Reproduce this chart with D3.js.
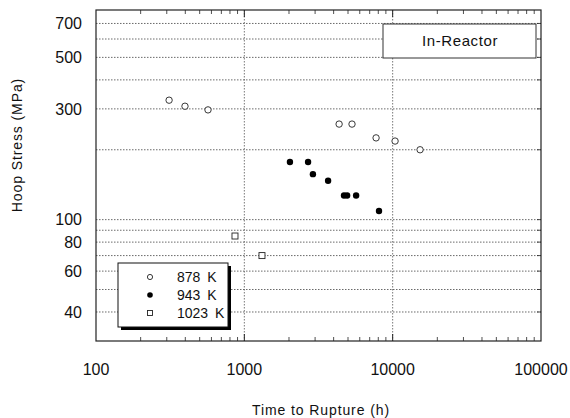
<!DOCTYPE html>
<html>
<head>
<meta charset="utf-8">
<script src="https://cdn.jsdelivr.net/npm/d3@7"></script>
<style>
  body { margin: 0; background: #fff; }
  text { font-family: "Liberation Sans", Arial, sans-serif; fill: #111; }
</style>
</head>
<body>
<div id="chart"></div>
<script>
// data
const series = ["878 K", "943 K", "1023 K"];
const t878 = [311, 398, 569, 4355, 5320, 7730, 10380, 15300];
const s878 = [327, 308, 297, 258, 258, 225, 218, 200];
const t943 = [2030, 2690, 2900, 3670, 4700, 4930, 5670, 8090];
const s943 = [177, 177, 157, 147, 127, 127, 127, 109];
const t1023 = [865, 1315];
const s1023 = [85, 70];
const xTicks = [100, 1000, 10000, 100000];
const yTicks = [40, 60, 80, 100, 300, 500, 700];
const yGrid = [40, 50, 60, 70, 80, 90, 100, 200, 300, 400, 500, 600, 700];

const W = 570, H = 418;
const margin = { top: 10, right: 29, bottom: 77, left: 96 };
const w = W - margin.left - margin.right;
const h = H - margin.top - margin.bottom;

const svg = d3.select("#chart").append("svg")
  .attr("width", W).attr("height", H);
const g = svg.append("g")
  .attr("transform", `translate(${margin.left},${margin.top})`);

const x = d3.scaleLog().domain([100, 100000]).range([0, w]);
const y = d3.scaleLog().domain([30, 800]).range([h, 0]);

// gridlines
g.selectAll(".hgrid").data(yGrid).enter().append("line")
  .attr("x1", 0).attr("x2", w)
  .attr("y1", d => y(d)).attr("y2", d => y(d))
  .attr("stroke", "#444").attr("stroke-width", 0.8)
  .attr("stroke-dasharray", "1.5,1.5");
g.selectAll(".vgrid").data([1000, 10000]).enter().append("line")
  .attr("x1", d => x(d)).attr("x2", d => x(d))
  .attr("y1", 0).attr("y2", h)
  .attr("stroke", "#555").attr("stroke-width", 0.8)
  .attr("stroke-dasharray", "1.5,1.5");

// minor ticks on bottom and top
const minor = [];
for (let dec = 100; dec < 100000; dec *= 10) {
  for (let k = 2; k <= 9; k++) minor.push(dec * k);
}
[[h, -1], [0, 1]].forEach(([yy, dir]) => {
  g.selectAll(null).data(minor).enter().append("line")
    .attr("x1", d => x(d)).attr("x2", d => x(d))
    .attr("y1", yy).attr("y2", yy + dir * 4)
    .attr("stroke", "#222").attr("stroke-width", 0.8);
  g.selectAll(null).data([1000, 10000]).enter().append("line")
    .attr("x1", d => x(d)).attr("x2", d => x(d))
    .attr("y1", yy).attr("y2", yy + dir * 7)
    .attr("stroke", "#222").attr("stroke-width", 1);
});
// right side ticks
g.selectAll(null).data(yGrid).enter().append("line")
  .attr("x1", w).attr("x2", w - 4)
  .attr("y1", d => y(d)).attr("y2", d => y(d))
  .attr("stroke", "#222").attr("stroke-width", 0.8);

// frame
g.append("rect").attr("width", w).attr("height", h)
  .attr("fill", "none").attr("stroke", "#222").attr("stroke-width", 1.2);

// tick labels
g.selectAll(".xl").data(xTicks).enter().append("text")
  .attr("x", d => x(d)).attr("y", h + 34)
  .attr("text-anchor", "middle").style("font-size", "16px")
  .text(d => d);
g.selectAll(".yl").data(yTicks).enter().append("text")
  .attr("x", -14).attr("y", d => y(d)).attr("dy", "0.36em")
  .attr("text-anchor", "end").style("font-size", "16px")
  .text(d => d);

// axis titles
svg.append("text")
  .attr("x", 321).attr("y", 415)
  .attr("text-anchor", "middle").style("font-size", "14px")
  .style("letter-spacing", "0.9px")
  .text("Time to Rupture (h)");
svg.append("text")
  .attr("transform", "translate(22,145) rotate(-90)")
  .attr("text-anchor", "middle").style("font-size", "14px")
  .style("letter-spacing", "0.9px")
  .text("Hoop Stress (MPa)");

// points
const r = 3.2;
g.selectAll(".p878").data(t878).enter().append("circle")
  .attr("cx", d => x(d)).attr("cy", (d, i) => y(s878[i])).attr("r", r)
  .attr("fill", "#fff").attr("stroke", "#222").attr("stroke-width", 0.9);
g.selectAll(".p943").data(t943).enter().append("circle")
  .attr("cx", d => x(d)).attr("cy", (d, i) => y(s943[i])).attr("r", r)
  .attr("fill", "#000");
g.selectAll(".p1023").data(t1023).enter().append("rect")
  .attr("x", d => x(d) - 3).attr("y", (d, i) => y(s1023[i]) - 3)
  .attr("width", 6).attr("height", 6)
  .attr("fill", "#fff").attr("stroke", "#222").attr("stroke-width", 0.9);

// legend
const lg = svg.append("g").attr("transform", "translate(118,263)");
lg.append("rect").attr("x", 3).attr("y", 3).attr("width", 110).attr("height", 64)
  .attr("fill", "#000");
lg.append("rect").attr("width", 110).attr("height", 64)
  .attr("fill", "#fff").attr("stroke", "#111").attr("stroke-width", 1);
series.forEach((s, i) => {
  const yy = 14 + i * 18;
  if (i === 0) lg.append("circle").attr("cx", 32).attr("cy", yy).attr("r", 2.6)
    .attr("fill", "#fff").attr("stroke", "#222").attr("stroke-width", 0.9);
  if (i === 1) lg.append("circle").attr("cx", 32).attr("cy", yy).attr("r", 2.8)
    .attr("fill", "#000");
  if (i === 2) lg.append("rect").attr("x", 29.5).attr("y", yy - 2.5)
    .attr("width", 5).attr("height", 5)
    .attr("fill", "#fff").attr("stroke", "#222").attr("stroke-width", 0.9);
  lg.append("text").attr("x", 59).attr("y", yy).attr("dy", "0.36em")
    .style("font-size", "14px").style("word-spacing", "3px").text(s);
});

// in-reactor label
const ir = svg.append("g").attr("transform", "translate(383,24)");
ir.append("rect").attr("width", 153).attr("height", 34)
  .attr("fill", "#fff").attr("stroke", "#333").attr("stroke-width", 1);
ir.append("text").attr("x", 77).attr("y", 17).attr("dy", "0.36em")
  .attr("text-anchor", "middle").style("font-size", "15px")
  .style("letter-spacing", "0.6px")
  .text("In-Reactor");
</script>
</body>
</html>
